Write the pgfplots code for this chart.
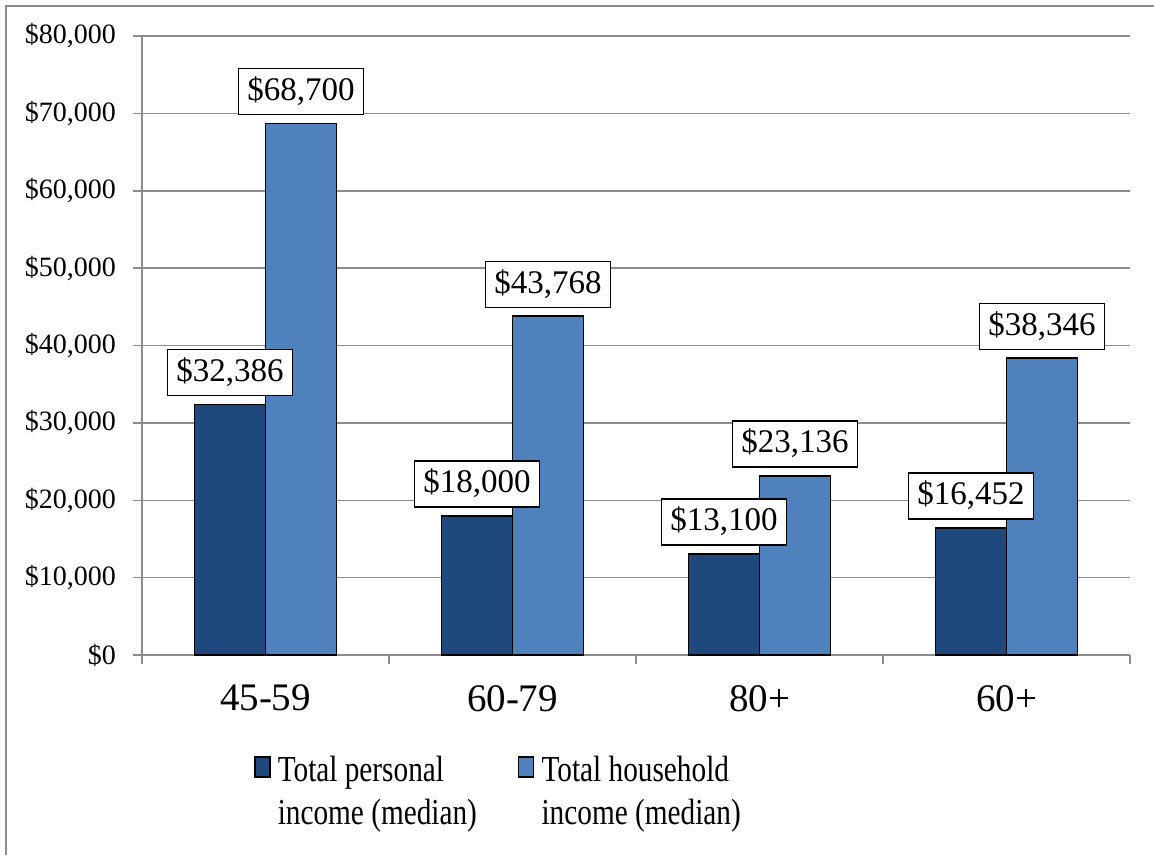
\documentclass[border=0pt]{standalone}
\usepackage{fontspec}
\setmainfont{Liberation Serif}
\newfontfamily\legfont[FakeStretch=0.8]{Liberation Serif}
\usepackage{pgfplots}
\pgfplotsset{compat=1.18}
\definecolor{darkbar}{HTML}{1F497D}
\definecolor{lightbar}{HTML}{4F81BD}
\definecolor{gridgray}{HTML}{8C8C8C}
\begin{document}
\begin{tikzpicture}
\path[use as bounding box] (0,0) rectangle (577pt,-427.5pt);
\draw[gridgray, line width=0.75pt] (3pt,-427.5pt) -- (3pt,-3pt) -- (577pt,-3pt);
\begin{axis}[
  at={(71pt,-327.5pt)}, anchor=south west,
  scale only axis, width=494pt, height=309.5pt,
  xmin=-0.5, xmax=3.5, ymin=0, ymax=80000,
  ybar=0pt, bar width=35.5pt,
  axis x line*=bottom, axis y line*=left,
  axis line style={gridgray, line width=0.75pt},
  ytick={0,10000,...,80000},
  scaled y ticks=false,
  ymajorgrids, grid style={gridgray, line width=0.75pt},
  tick align=outside, major tick length=4.5pt,
  tick style={gridgray, line width=0.75pt},
  xtick={-0.5,0.5,1.5,2.5,3.5},
  x tick label as interval,
  xticklabels={45-59,60-79,80+,60+},
  yticklabel={\$\pgfmathprintnumber{\tick}},
  /pgf/number format/1000 sep={,},
  /pgf/number format/assume math mode=true,
  y tick label style={font=\fontsize{14}{16}\selectfont, xshift=-5pt},
  x tick label style={font=\fontsize{19.5}{22}\selectfont, yshift=-7pt},
  point meta=y,
  nodes near coords={\$\pgfmathprintnumber{\pgfplotspointmeta}},
  nodes near coords style={font=\fontsize{16.5}{19}\selectfont, draw=black, fill=white, line width=0.75pt, text height=11.5pt, text depth=3pt, inner xsep=4.5pt, inner ysep=4.25pt, yshift=4pt, /pgf/number format/1000 sep={,}},
  clip=false,
  legend columns=2,
  legend style={at={(0.107,-0.15)}, anchor=north west, draw=none, fill=none,
    font=\legfont\fontsize{18.3}{21.5}\selectfont, cells={align=left},
    /tikz/every even column/.append style={column sep=18.5pt}},
  legend image code/.code={\draw[#1, line width=0.75pt] (0pt,7.5pt) rectangle (7.5pt,17.5pt); \path (9pt,8pt);},
]
\addplot[fill=darkbar, draw=black, line width=0.9pt] coordinates {(0,32386) (1,18000) (2,13100) (3,16452)};
\addlegendentry{Total personal\\income (median)}
\addplot[fill=lightbar, draw=black, line width=0.9pt] coordinates {(0,68700) (1,43768) (2,23136) (3,38346)};
\addlegendentry{Total household\\income (median)}
\end{axis}
\end{tikzpicture}
\end{document}
